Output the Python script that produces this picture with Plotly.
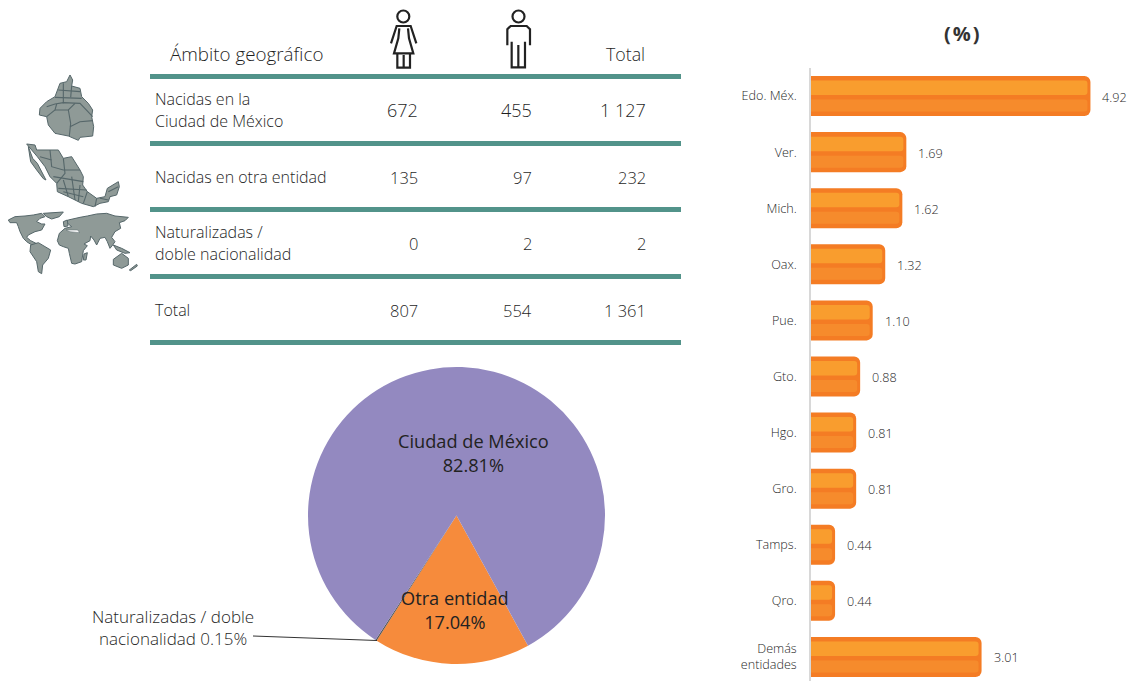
import plotly.graph_objects as go

W, H = 1134, 681
FONT = "Open Sans"
DARK = "#1F1F1F"
TEAL = "#52938A"

# ---- data ----
table_header = ["Ámbito geográfico", "Total"]
table_rows = [["Nacidas en la", "Ciudad de México"], ["Nacidas en otra entidad"],
              ["Naturalizadas /", "doble nacionalidad"], ["Total"]]
women = ["672", "135", "0", "807"]
men = ["455", "97", "2", "554"]
total = ["1 127", "232", "2", "1 361"]

pie_labels = ["Otra entidad", "Naturalizadas / doble nacionalidad", "Ciudad de México"]
pie_values = [17.04, 0.15, 82.81]

states = ["Edo. Méx.", "Ver.", "Mich.", "Oax.", "Pue.", "Gto.", "Hgo.", "Gro.",
          "Tamps.", "Qro.", "Demás<br>entidades"]
state_values = [4.92, 1.69, 1.62, 1.32, 1.10, 0.88, 0.81, 0.81, 0.44, 0.44, 3.01]


def px(x):
    return x / W


def py(y):
    return 1 - y / H


def poly(points, close=True, scale=1.0, dx=0.0, dy=0.0):
    parts = []
    for i, (x, y) in enumerate(points):
        parts.append(f"{'M' if i == 0 else 'L'}{px(x * scale + dx):.5f},{py(y * scale + dy):.5f}")
    return " ".join(parts) + (" Z" if close else "")


shapes, annos = [], []


def note(x, y, text, size=16, anchor="left", color=DARK, weight=300):
    nudge = {"left": -2, "right": 2, "center": 0}[anchor]
    annos.append(dict(x=px(x), y=py(y), xref="paper", yref="paper", text=text, showarrow=False,
                      xanchor=anchor, yanchor="middle", xshift=nudge,
                      align="center" if anchor == "center" else anchor,
                      font=dict(family=FONT, size=size, color=color, weight=weight)))


# ---- table ----
for y in [76.5, 143.5, 209.5, 276.5, 342.5]:
    shapes.append(dict(type="rect", xref="paper", yref="paper", x0=px(150), x1=px(681),
                       y0=py(y - 2.5), y1=py(y + 2.5), fillcolor=TEAL, line_width=0))
note(170, 54, table_header[0], 18.8)
note(645, 54, table_header[1], 17.8, "right")
row_y = [110, 177, 243, 310]
for i, cy in enumerate(row_y):
    lines = table_rows[i]
    if len(lines) == 2:
        note(155, cy - 11, lines[0], 16)
        note(155, cy + 11, lines[1], 16)
    else:
        note(155, cy, lines[0], 16)
    size = 18 if i == 0 else 16.5
    note(418, cy, women[i], size, "right")
    note(532, cy, men[i], size, "right")
    note(646, cy, total[i], size, "right")

# ---- people icons ----
ICON = dict(color="#222222", width=2.2)


def zoom_pt(x, y):
    return (370 + x / 3, y / 3)


def icon_line(pts):
    shapes.append(dict(type="path", xref="paper", yref="paper", line=ICON,
                       path=poly([zoom_pt(*p) for p in pts], close=False)))


for cx in [403.3, 518.5]:
    shapes.append(dict(type="circle", xref="paper", yref="paper", x0=px(cx - 6), x1=px(cx + 6),
                       y0=py(10.5), y1=py(22.5), line=ICON))
icon_line([(63, 130), (80, 78), (122, 78), (139, 130)])
icon_line([(88, 85), (85, 115), (72, 160), (130, 160), (117, 115), (114, 85)])
icon_line([(82, 162), (82, 203), (120, 203), (120, 162)])
icon_line([(101, 165), (101, 203)])
icon_line([(412, 136), (412, 88), (422, 78), (470, 78), (480, 88), (480, 136)])
icon_line([(425, 125), (425, 202), (465, 202), (465, 125)])
icon_line([(445, 135), (445, 202)])

# ---- decorative maps (1/3 scale) ----
MAP_FILL, MAP_LINE = "#8F9A97", "#56676A"
cdmx = [(210, 225), (218, 240), (215, 258), (240, 265), (245, 290), (265, 310), (278, 330), (275, 350),
        (281, 380), (278, 408), (240, 412), (235, 421), (205, 408), (165, 400), (145, 375), (140, 350),
        (118, 345), (120, 325), (140, 305), (165, 290), (180, 250), (200, 245)]
cdmx_in = [[(140, 320), (165, 312), (190, 308), (240, 310), (278, 350)], [(175, 270), (240, 275)],
           [(165, 292), (245, 295)], [(205, 330), (212, 370), (208, 408)], [(210, 380), (240, 365), (278, 362)],
           [(165, 330), (205, 330), (225, 310)], [(190, 250), (190, 310)], [(140, 350), (165, 330), (170, 312)],
           [(215, 258), (212, 292)]]
mexico = [(80, 432), (105, 435), (110, 450), (150, 450), (175, 450), (190, 475), (215, 470), (240, 510),
          (250, 530), (248, 555), (262, 575), (290, 595), (315, 590), (322, 565), (355, 545), (358, 560),
          (350, 585), (330, 590), (325, 605), (300, 610), (280, 620), (245, 610), (205, 590), (172, 575),
          (170, 550), (150, 530), (135, 500), (112, 470), (95, 450)]
baja = [(85, 440), (98, 475), (112, 490), (138, 540), (130, 536), (110, 510), (92, 485)]
mex_in = [[(150, 450), (155, 500), (190, 510), (240, 510)], [(190, 475), (195, 520), (170, 550)],
          [(160, 530), (250, 545)], [(175, 565), (260, 570)], [(215, 530), (225, 600)], [(262, 575), (250, 610)],
          [(290, 595), (285, 620)], [(325, 575), (355, 560)], [(120, 470), (155, 480)], [(190, 540), (205, 590)],
          [(240, 555), (235, 605)], [(190, 575), (250, 590)], [(300, 595), (325, 600)]]
world = [
    [(25, 660), (45, 650), (75, 648), (100, 645), (125, 640), (135, 650), (120, 655), (110, 665), (125, 672),
     (135, 672), (125, 690), (105, 695), (85, 705), (80, 712), (92, 722), (112, 732), (100, 738), (80, 725),
     (70, 715), (60, 695), (55, 680), (50, 668), (30, 668)],
    [(130, 640), (190, 636), (178, 650), (155, 657), (140, 650)],
    [(92, 735), (115, 728), (152, 750), (145, 775), (128, 795), (125, 821), (115, 815), (110, 785), (90, 755)],
    [(172, 722), (178, 700), (195, 685), (215, 680), (205, 672), (190, 668), (205, 660), (240, 652), (262, 648),
     (290, 642), (320, 640), (345, 648), (385, 652), (375, 662), (358, 668), (362, 685), (345, 695), (335, 712),
     (345, 725), (338, 735), (330, 745), (322, 725), (315, 712), (300, 715), (290, 735), (282, 720), (272, 708),
     (270, 722), (252, 732), (262, 737), (250, 752), (245, 785), (225, 792), (215, 790), (208, 760), (205, 745),
     (190, 740), (178, 735)],
    [(340, 778), (365, 760), (385, 775), (385, 795), (365, 805), (340, 795)],
    [(388, 810), (410, 793), (412, 798), (392, 812)],
    [(340, 735), (365, 745), (390, 758), (375, 760), (350, 750)],
    [(252, 762), (262, 758), (258, 780), (250, 780)],
    [(190, 665), (202, 660), (204, 678), (192, 680)],
]
sea = [(198, 690), (232, 690), (240, 698), (210, 695)]
for pts in [cdmx, mexico, baja] + world:
    shapes.append(dict(type="path", xref="paper", yref="paper", path=poly(pts, scale=1 / 3),
                       fillcolor=MAP_FILL, line=dict(color=MAP_LINE, width=1)))
shapes.append(dict(type="path", xref="paper", yref="paper", path=poly(sea, scale=1 / 3),
                   fillcolor="white", line=dict(color=MAP_LINE, width=0.5)))
for pts in cdmx_in + mex_in:
    shapes.append(dict(type="path", xref="paper", yref="paper", path=poly(pts, close=False, scale=1 / 3),
                       line=dict(color=MAP_LINE, width=1.1)))

# ---- pie ----
pie = go.Pie(labels=pie_labels, values=pie_values, sort=False, direction="clockwise", rotation=151.2,
             textinfo="none", hoverinfo="label+percent", showlegend=False,
             marker=dict(colors=["#F68B3C", "#555555", "#9389C0"], line=dict(width=0)),
             domain=dict(x=[px(308), px(605)], y=[py(664), py(367)]))
note(473, 453, f"{pie_labels[2]}<br>{pie_values[2]:.2f}%", 18.2, "center", "#222222", 400)
note(455, 610, f"{pie_labels[0]}<br>{pie_values[0]:.2f}%", 18.2, "center", "#222222", 400)
note(172.5, 627, f"Naturalizadas / doble<br>nacionalidad {pie_values[1]:.2f}%", 17, "center")
shapes.append(dict(type="line", xref="paper", yref="paper", x0=px(253), y0=py(636), x1=px(377), y1=py(640.5),
                   line=dict(color="#333333", width=1)))

# ---- bars ----
STEP = 56.08      # px per category
XS = 57.0         # px per unit
inset = 3 / XS
bar_def = [
    (0, 40, 0, "#F47C24", 6),
    (4.5, 14.5, inset, "#F99D2E", 3),
    (23.5, 12, inset, "#F68B2C", 3),
]
bars = []
for top, height, ins, color, radius in bar_def:
    bars.append(go.Bar(y=states, x=[v - ins for v in state_values], orientation="h",
                       offset=(top - 20) / STEP, width=height / STEP,
                       marker=dict(color=color, line_width=0, cornerradius=radius),
                       showlegend=False, hoverinfo="y+x"))
for s, v in zip(states, state_values):
    annos.append(dict(x=v, y=s, xref="x", yref="y", text=f"{v:.2f}", showarrow=False, xanchor="left",
                      xshift=10, yshift=-1, font=dict(family=FONT, size=12.6, color=DARK, weight=300)))
note(962, 33.5, "(\u200a%\u200a)", 20, "center", "#333333", "bold")

fig = go.Figure([pie] + bars)
fig.update_layout(
    width=W, height=H, margin=dict(l=0, r=0, t=0, b=0), autosize=False,
    paper_bgcolor="white", plot_bgcolor="white", barmode="overlay",
    font=dict(family=FONT, color=DARK),
    xaxis=dict(domain=[px(810), 1], range=[0, (W - 810) / XS], visible=False),
    yaxis=dict(domain=[py(681), py(68)], anchor="free", position=px(810), type="category",
               categoryorder="array", categoryarray=states, range=[10.43, -0.5],
               showline=True, linecolor="#D8D8D8", linewidth=1.5, showgrid=False, zeroline=False,
               ticks="outside", ticklen=10, tickcolor="rgba(0,0,0,0)",
               tickfont=dict(family=FONT, size=12.6, color=DARK, weight=300)),
    shapes=shapes, annotations=annos,
)
fig.write_html("out.html", post_script="document.body.style.margin='0';",
               config={"displayModeBar": False})
